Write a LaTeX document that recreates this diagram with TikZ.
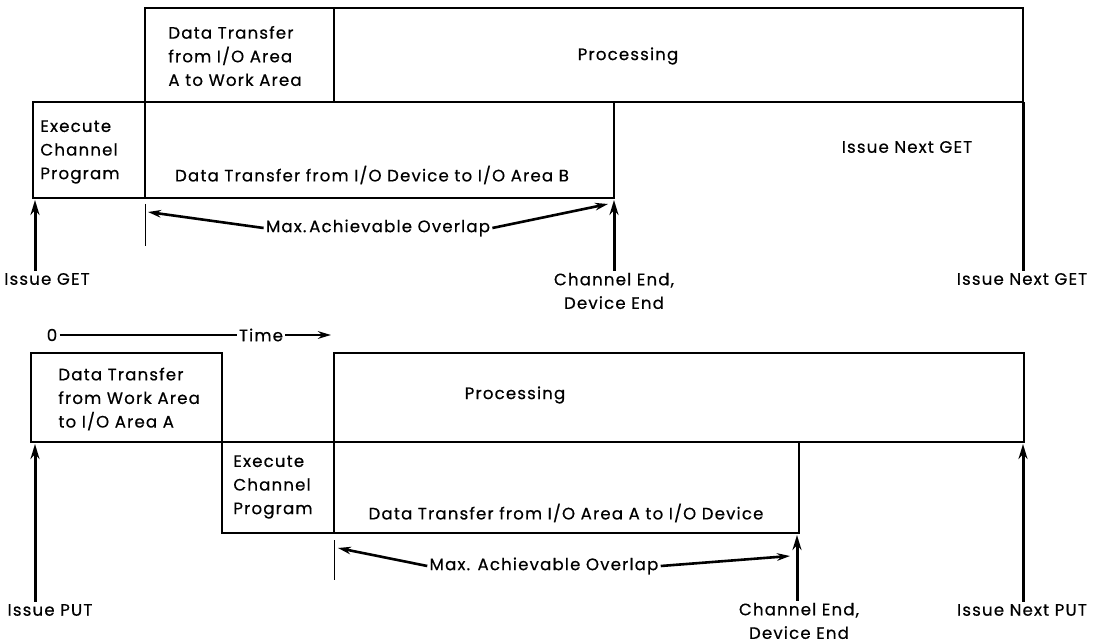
\documentclass[tikz,border=0pt]{standalone}
\usepackage{fontspec}
\setmainfont{Poppins}[LetterSpace=7,FakeBold=0.5]
\usetikzlibrary{arrows.meta}

\begin{document}
\begin{tikzpicture}[x=0.5pt,y=-0.5pt,
  txt/.style={font=\fontsize{8.3}{11.8}\selectfont,inner sep=1pt},
  lbl/.style={txt,align=left},
  box/.style={line width=0.75pt},
  tick/.style={line width=0.4pt},
  uparr/.style={line width=1.5pt,>={Stealth[length=7.5pt,width=4.5pt]},->},
  ovarr/.style={line width=1.3pt,>={Stealth[length=6.5pt,width=3.8pt]},->}]
\useasboundingbox (0,0) rectangle (1094,642);

% ------------------------------------------------ GET: boxes
\draw [box] (145,8) rectangle (1023,102);
\draw [box] (334,8) -- (334,102);
\draw [box] (33,102) -- (1023,102);
\draw [box] (33,102) rectangle (614,198);
\draw [box] (145,102) -- (145,198);

\node[lbl,anchor=west] (dtA) at (166,56) {Data Transfer\\from I/O Area\\A to Work Area};
\node[txt] (proc1) at (628,56) {Processing};
\node[lbl,anchor=west] (ecp1) at (38,152) {Execute\\Channel\\Program};
\node[txt] (dtB) at (372,175) {Data Transfer from I/O Device to I/O Area B};
\node[txt] (next1) at (907,147) {Issue Next GET};

% ------------------------------------------------ GET: events and overlap
\coordinate (g0) at (35,200);
\coordinate (g1) at (614,200);
\coordinate (g2) at (1023,102);
\node[txt] (get) at (47,279) {Issue GET};
\node[txt,align=center] (ce1) at (614,291) {Channel End,\\Device End};
\node[txt] (next2) at (1022,279) {Issue Next GET};

\draw [uparr] (get.north -| g0) -- (g0);
\draw [uparr] (ce1.north -| g1) -- (g1);
\draw [line width=1.5pt] (next2.north -| g2) -- (g2);

\draw [tick] (145,204) -- (145,246);
\node[txt] (ovl1) at (378,228) {Max.\,Achievable Overlap};
\draw [ovarr] (ovl1.west) -- (148,212);
\draw [ovarr] (ovl1.east) -- (608,204);

% ------------------------------------------------ time axis
\node[txt] (zero) at (52,335) {0};
\node[txt] (time) at (261,335) {Time};
\coordinate (tend) at (331,335);
\draw [line width=0.6pt] (zero.east) -- (time.west);
\draw [ovarr] (time.east) -- (tend);

% ------------------------------------------------ PUT: boxes
\draw [box] (31,353) rectangle (222,442);
\draw [box] (334,353) rectangle (1024,442);
\draw [box] (31,442) -- (1024,442);
\draw [box] (222,442) rectangle (799,533);
\draw [box] (334,442) -- (334,533);

\node[lbl,anchor=west] (dtW) at (56,399) {Data Transfer\\from Work Area\\to I/O Area A};
\node[txt] (proc2) at (515,395) {Processing};
\node[lbl,anchor=west] (ecp2) at (231,487) {Execute\\Channel\\Program};
\node[txt] (dtD) at (566,513) {Data Transfer from I/O Area A to I/O Device};

% ------------------------------------------------ PUT: events and overlap
\coordinate (p0) at (35,444);
\coordinate (p1) at (797,535);
\coordinate (p2) at (1023,444);
\node[txt] (put) at (50,610) {Issue PUT};
\node[txt,align=center] (ce2) at (799,621) {Channel End,\\Device End};
\node[txt] (nextput) at (1022,610) {Issue Next PUT};

\draw [uparr] (put.north -| p0) -- (p0);
\draw [uparr] (ce2.north -| p1) -- (p1);
\draw [uparr] (nextput.north -| p2) -- (p2);

\draw [tick] (334,540) -- (334,580);
\node[txt] (ovl2) at (544,566) {Max. Achievable Overlap};
\draw [ovarr] (ovl2.west) -- (338,548);
\draw [ovarr] (ovl2.east) -- (790,556);

\end{tikzpicture}
\end{document}
